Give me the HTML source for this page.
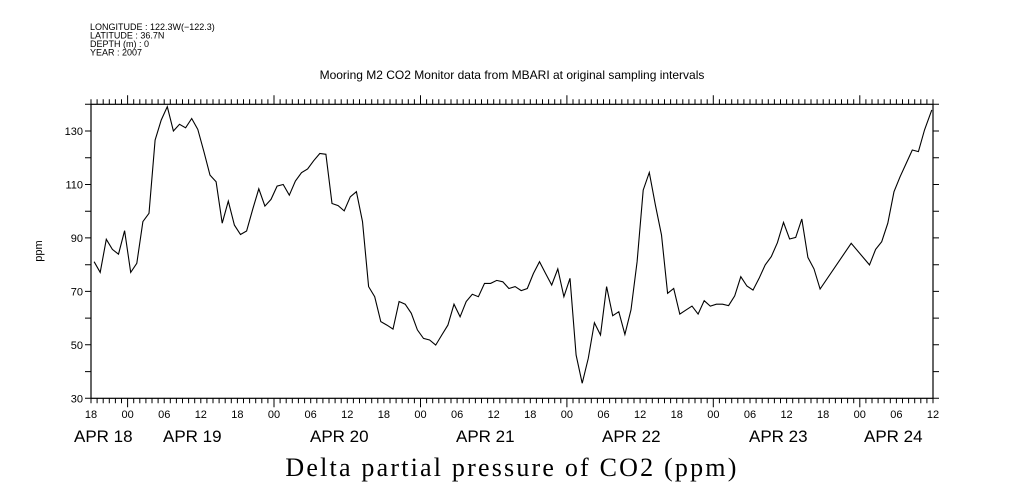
<!DOCTYPE html>
<html><head><meta charset="utf-8"><style>
body{margin:0;background:#fff;}
svg{display:block;font-family:"Liberation Sans",sans-serif;}
</style></head><body>
<svg id="chart" width="1009" height="504" viewBox="0 0 1009 504" xmlns="http://www.w3.org/2000/svg">
<g font-size="9" fill="#000">
<text x="90" y="30">LONGITUDE : 122.3W(−122.3)</text>
<text x="90" y="38.5">LATITUDE : 36.7N</text>
<text x="90" y="47">DEPTH (m) : 0</text>
<text x="90" y="55.5">YEAR : 2007</text>
</g>
<text x="512" y="79" text-anchor="middle" font-size="12">Mooring M2 CO2 Monitor data from MBARI at original sampling intervals</text>
<text transform="translate(42,251) rotate(-90)" text-anchor="middle" font-size="11">ppm</text>
<text x="512" y="476" text-anchor="middle" font-size="26" letter-spacing="2.2" font-family="Liberation Serif, serif">Delta partial pressure of CO2 (ppm)</text>
<g id="axes"></g>
<g id="series"></g>
</svg>
<script>
const hours = [0.5,1.5,2.5,3.5,4.5,5.5,6.5,7.5,8.5,9.5,10.5,11.5,12.5,13.5,14.5,15.5,16.5,17.5,18.5,19.5,20.5,21.5,22.5,23.5,24.5,25.5,26.5,27.5,28.5,29.5,30.5,31.5,32.5,33.5,34.5,35.5,36.5,37.5,38.5,39.5,40.5,41.5,42.5,43.5,44.5,45.5,46.5,
47.5,48.5,49.5,50.5,51.5,52.5,53.5,54.5,55.5,56.5,57.5,58.5,59.5,60.5,61.5,62.5,63.5,64.5,65.5,66.5,67.5,68.5,69.5,70.5,71.5,72.5,73.5,74.5,75.5,76.5,77.5,78.5,79.5,80.5,81.5,82.5,83.5,84.5,85.5,86.5,87.5,88.5,89.5,90.5,91.5,92.5,93.5,94.5,
95.5,96.5,97.5,98.5,99.5,100.5,101.5,102.5,103.5,104.5,105.5,106.5,107.5,108.5,109.5,110.5,111.5,112.5,113.5,114.5,115.5,116.5,117.5,118.5,119.5,
124.6,127.6,128.6,129.6,130.6,131.6,132.6,133.6,134.6,135.6,136.6,137.8];
const ppm = [81.1,77.1,89.5,85.7,83.9,92.7,77.1,80.5,96.1,99.2,126.6,134.1,139.1,130,132.5,131.2,134.7,130.6,122.3,113.5,111,95.5,103.8,94.8,91.3,92.6,100.7,108.4,101.9,104.4,109.4,110,106,111.3,114.4,115.8,118.9,121.6,121.3,102.9,102.1,100.1,105.4,107.3,96.1,71.8,68,
58.7,57.4,55.9,66.2,65.2,61.8,55.6,52.4,51.8,49.9,53.7,57.4,65.2,60.5,66.2,68.9,68,73,73,74.1,73.6,71.1,71.8,70.3,71.1,76.7,81.1,76.7,72.4,78.4,68,74.9,46.2,35.6,45,58.3,53.7,71.8,60.9,62.4,53.9,63.1,81.1,107.9,114.5,102.3,91.1,69.3,
71.1,61.5,63.0,64.5,61.5,66.5,64.5,65.2,65.2,64.7,68.3,75.5,72.0,70.5,74.9,79.9,83.0,88.2,95.8,89.6,90.2,97.1,82.7,78.4,70.9,
88.0,79.9,85.7,88.6,95.5,107.3,112.9,117.9,122.9,122.3,130.4,137.9];
const yTickLabels = [130,110,90,70,50,30];
const xHourLabels = ["18","00","06","12","18","00","06","12","18","00","06","12","18","00","06","12","18","00","06","12","18","00","06","12"];
const dayLabels = ["APR 18","APR 19","APR 20","APR 21","APR 22","APR 23","APR 24"];
const dayLabelX = [74,163,310,456,602,749,864];

const NS="http://www.w3.org/2000/svg";
const X0=91,X1=933,Y0=398.3,Y1=104.3,HMAX=138,VMIN=30,VMAX=140;
const sx=h=>X0+(h/HMAX)*(X1-X0);
const sy=v=>Y0-(v-VMIN)/(VMAX-VMIN)*(Y0-Y1);
const axes=document.getElementById('axes');
function mk(tag,attrs,parent){const e=document.createElementNS(NS,tag);for(const k in attrs)e.setAttribute(k,attrs[k]);parent.appendChild(e);return e;}
let frame=mk('rect',{x:X0,y:Y1,width:X1-X0,height:Y0-Y1,fill:'none',stroke:'#000','stroke-width':1.2},axes);


let tp='';
for(let h=0;h<=HMAX;h++){
  const x=sx(h).toFixed(1);
  const len=((h+18)%24===0)?9:5;
  tp+=`M${x} ${Y0}v${len}M${x} ${Y1}v${-len}`;
}
for(let v=VMIN;v<=VMAX;v+=10){
  const y=sy(v).toFixed(1);
  tp+=`M${X0} ${y}h-6M${X1} ${y}h6`;
}
let ticks=mk('path',{d:tp,stroke:'#000','stroke-width':1,fill:'none'},axes);


yTickLabels.forEach(v=>{
  const t=mk('text',{x:X0-8,y:sy(v)+4,'text-anchor':'end','font-size':11},axes);
  t.textContent=v;
  
  
});
xHourLabels.forEach((s,i)=>{
  const t=mk('text',{x:sx(i*6),y:418,'text-anchor':'middle','font-size':11},axes);
  t.textContent=s;
  
  
});
dayLabels.forEach((s,i)=>{
  const t=mk('text',{x:dayLabelX[i],y:442,'font-size':17},axes);
  t.textContent=s;
  
  
});
const pts=hours.map((h,i)=>sx(h).toFixed(1)+','+sy(ppm[i]).toFixed(1)).join(' ');
const line=mk('polyline',{points:pts,fill:'none',stroke:'#000','stroke-width':1.1},document.getElementById('series'));


</script>
</body></html>
